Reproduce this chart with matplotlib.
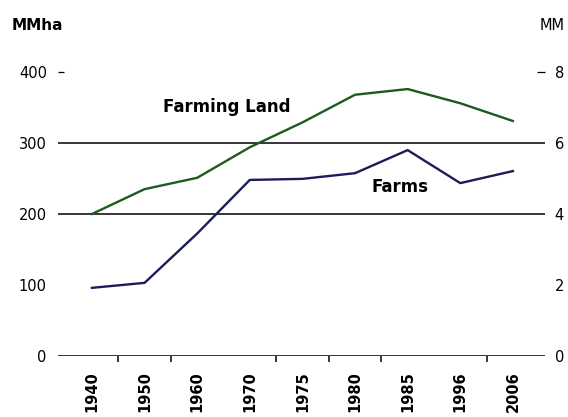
import numpy as np
import matplotlib.pyplot as plt

plt.rcParams['font.family'] = ['DejaVu Sans']

# Farmland area (million ha, left axis) and number of farms (millions, right axis)
years = ['1940', '1950', '1960', '1970', '1975', '1980', '1985', '1996', '2006']
farming_land = [200, 235, 251, 294, 329, 368, 376, 356, 331]
farms = [1.92, 2.06, 3.45, 4.96, 4.99, 5.15, 5.8, 4.87, 5.21]

left_ticks = [0, 100, 200, 300, 400]
right_ticks = [0, 2, 4, 6, 8]

green = '#1e5a1e'
navy = '#1c1c5c'

fig = plt.figure(figsize=(5.68, 4.17), dpi=100)
ax = fig.add_axes([0.102, 0.1463, 0.8575, 0.681])
ax2 = ax.twinx()

x = np.arange(len(years))
ax.plot(x, farming_land, color=green, lw=1.7, zorder=3)
ax2.plot(x, farms, color=navy, lw=1.7, zorder=3)

ax.set_xlim(-0.646, 8.61)
ax.set_ylim(0, 400)
ax2.set_ylim(0, 8)

# horizontal rules at 200 and 300 plus the base line
for v in [0, 200, 300]:
    ax.axhline(v, color='black', lw=1.1, zorder=1)

for spine in list(ax.spines.values()) + list(ax2.spines.values()):
    spine.set_visible(False)

ax.set_xticks(x)
ax.set_xticklabels(years, rotation=90, fontsize=10.5, fontweight='bold')
ax.tick_params(axis='x', length=0, pad=11)
# category separators
ax.set_xticks([0.5, 1.5, 3.5, 4.5, 5.5, 7.5], minor=True)
ax.tick_params(axis='x', which='minor', length=4.5, width=1.1, direction='out')

ax.set_yticks(left_ticks)
ax.set_yticklabels([str(v) for v in left_ticks], fontsize=10.5)
ax.tick_params(axis='y', length=0, pad=8)
ax.yaxis.remove_overlapping_locs = False
ax.set_yticks([400], minor=True)
ax.tick_params(axis='y', which='minor', length=4, width=0.9, direction='in')

ax2.set_yticks(right_ticks)
ax2.set_yticklabels([str(v) for v in right_ticks], fontsize=10.5)
ax2.tick_params(axis='y', length=0, pad=7)
ax2.yaxis.remove_overlapping_locs = False
ax2.set_yticks([8], minor=True)
ax2.tick_params(axis='y', which='minor', length=6, width=0.9, direction='in')

fig.text(227 / 568, 1 - 107 / 417, 'Farming Land', fontsize=12,
         fontweight='bold', ha='center', va='center')
fig.text(400 / 568, 1 - 187 / 417, 'Farms', fontsize=12,
         fontweight='bold', ha='center', va='center')

fig.text(12 / 568, 1 - 25 / 417, 'MMha', fontsize=11, fontweight='bold',
         ha='left', va='center')
fig.text(565 / 568, 1 - 25 / 417, 'MM', fontsize=10.5, ha='right', va='center')

fig.savefig('out.png', dpi=100)
